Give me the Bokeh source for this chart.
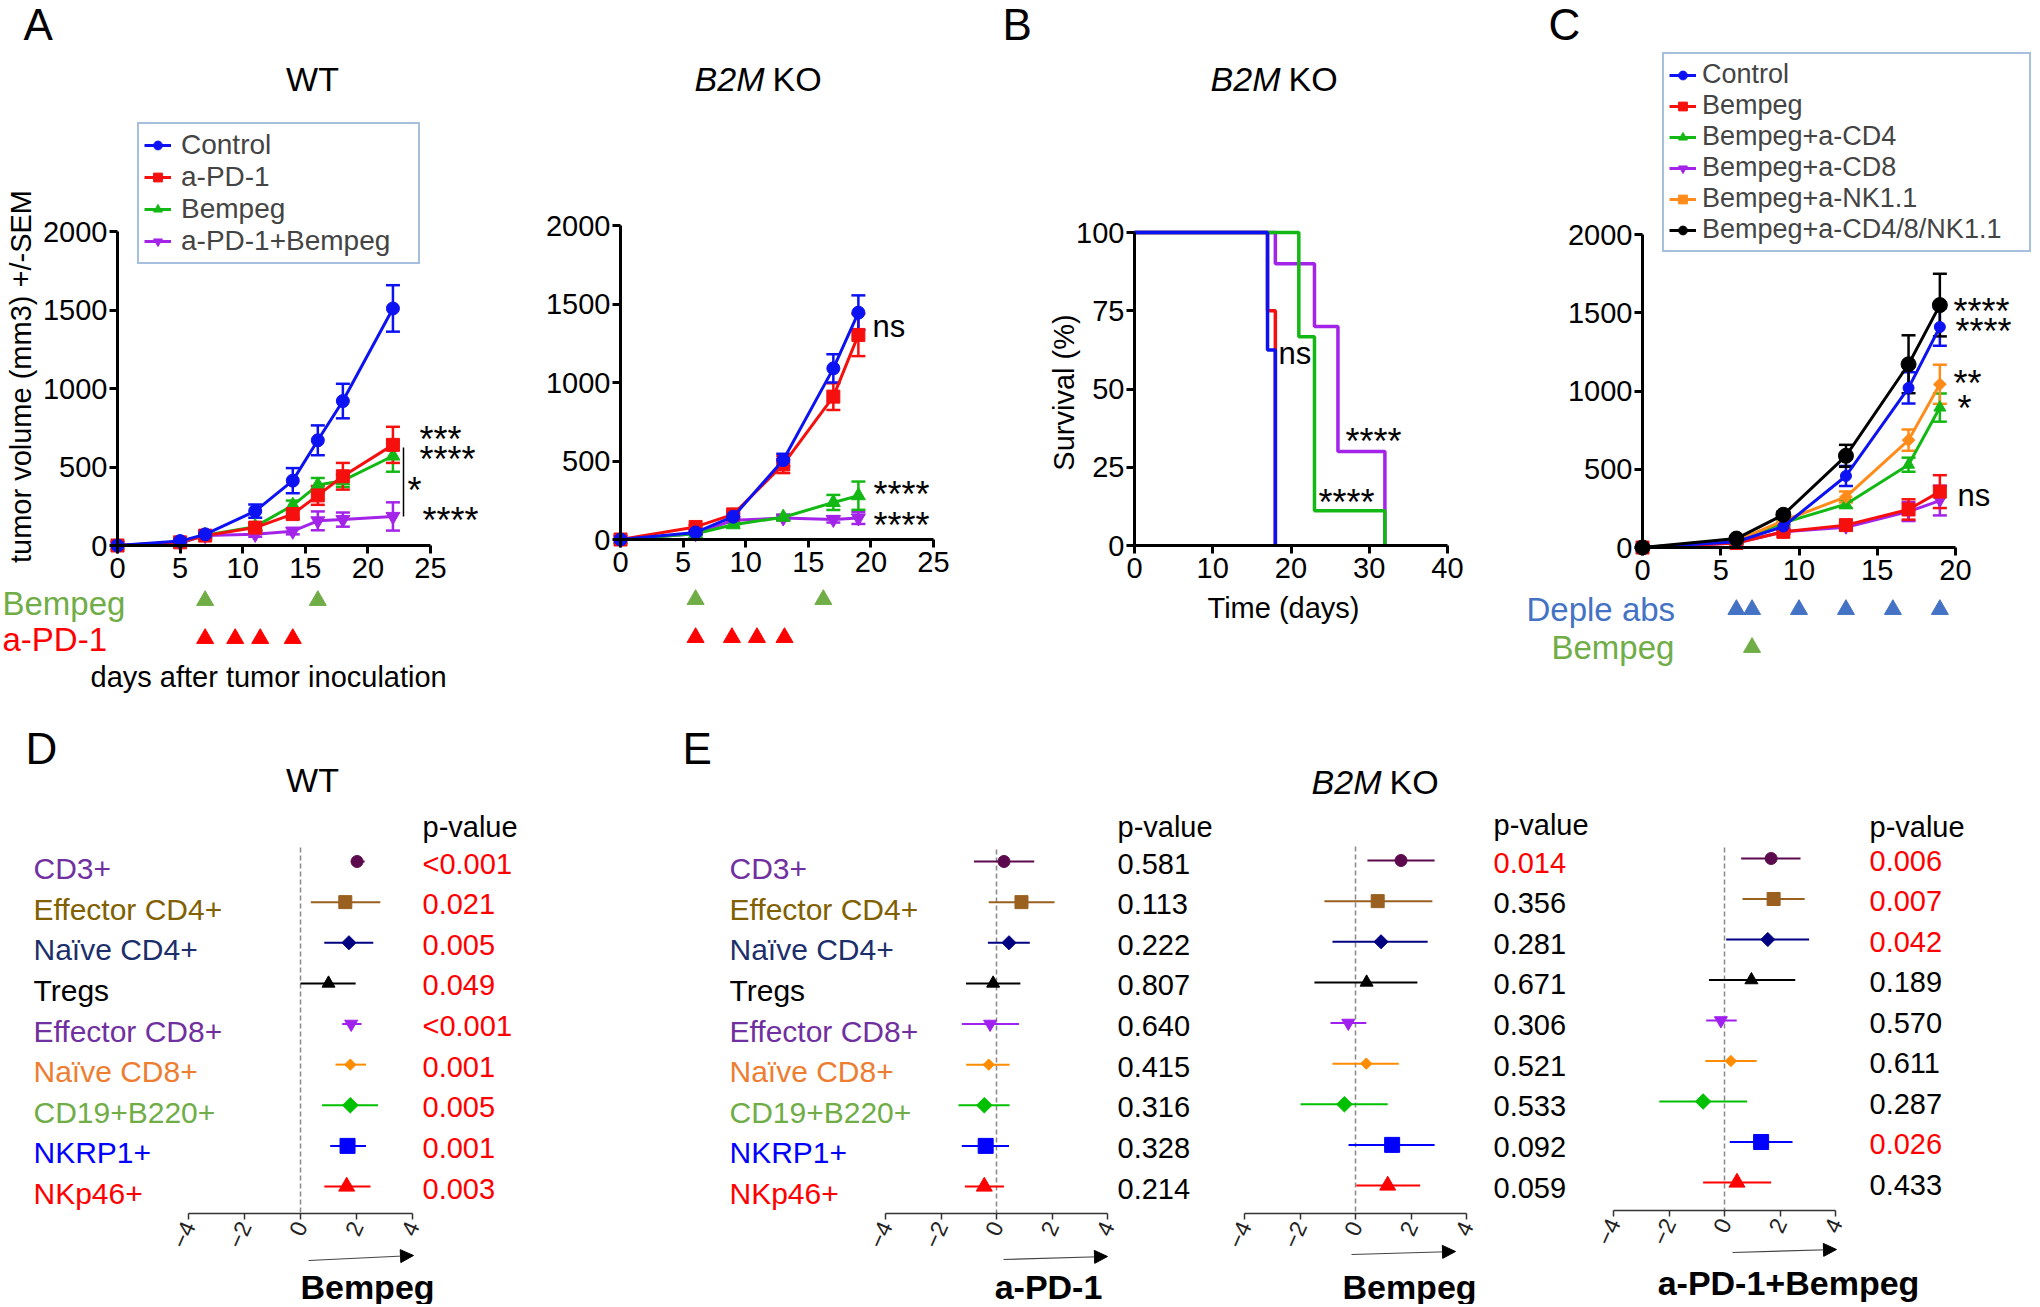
import math
from bokeh.plotting import figure
from bokeh.models import (Range1d, LinearAxis, FixedTicker, Label, Legend, LegendItem,
                          Whisker, TeeHead, ColumnDataSource, Arrow, NormalHead)
from bokeh.layouts import row, column
from bokeh.embed import file_html
from bokeh.resources import INLINE
from bokeh.core.properties import value

# ---------------- data ----------------
# Panel A, WT tumour growth (mm3, mean and SEM)
wt_days = [0, 5, 7, 11, 14, 16, 18, 22]
wt_control = [0, 28, 71, 219, 413, 670, 920, 1510]
wt_control_sem = [0, 8, 15, 42, 80, 95, 110, 148]
wt_apd1 = [0, 20, 63, 114, 200, 319, 441, 641]
wt_apd1_sem = [0, 5, 12, 20, 28, 60, 85, 115]
wt_bempeg = [0, 20, 65, 120, 256, 385, 413, 570]
wt_bempeg_sem = [0, 5, 12, 20, 30, 45, 40, 100]
wt_combo = [0, 15, 63, 71, 91, 157, 165, 185]
wt_combo_sem = [0, 5, 10, 15, 20, 60, 45, 90]
wt_bempeg_doses = [7, 16]
wt_apd1_doses = [7, 9.4, 11.4, 14]

# Panel A, B2M KO tumour growth
ko_days = [0, 6, 9, 13, 17, 19]
ko_control = [0, 45, 145, 506, 1090, 1445]
ko_control_sem = [0, 10, 20, 40, 90, 110]
ko_apd1 = [0, 80, 160, 478, 910, 1303]
ko_apd1_sem = [0, 12, 20, 55, 85, 135]
ko_bempeg = [0, 37, 94, 142, 236, 279]
ko_bempeg_sem = [0, 8, 12, 15, 48, 90]
ko_combo = [0, 37, 122, 137, 128, 137]
ko_combo_sem = [0, 8, 12, 15, 20, 38]
ko_bempeg_doses = [6, 16.2]
ko_apd1_doses = [6, 8.9, 10.9, 13.1]

# Panel B, survival (%)
surv_control_t = [0, 17, 18]
surv_control = [100, 62.5, 0]
surv_apd1_t = [0, 17, 18]
surv_apd1 = [100, 75, 0]
surv_bempeg_t = [0, 21, 23, 32]
surv_bempeg = [100, 66.7, 11.1, 0]
surv_combo_t = [0, 18, 23, 26, 32]
surv_combo = [100, 90, 70, 30, 0]

# Panel C, depletion
c_days = [0, 6, 9, 13, 17, 19]
c_control = [0, 37, 134, 457, 1020, 1409]
c_control_sem = [0, 8, 15, 64, 100, 120]
c_bempeg = [0, 29, 100, 143, 243, 357]
c_bempeg_sem = [0, 6, 15, 20, 65, 105]
c_cd4 = [0, 43, 157, 277, 529, 894]
c_cd4_sem = [0, 8, 15, 25, 45, 90]
c_cd8 = [0, 29, 100, 129, 229, 300]
c_cd8_sem = [0, 6, 12, 18, 60, 95]
c_nk = [0, 43, 171, 323, 686, 1043]
c_nk_sem = [0, 8, 15, 35, 68, 125]
c_all = [0, 57, 209, 586, 1171, 1549]
c_all_sem = [0, 10, 20, 70, 185, 200]
c_deple_doses = [6, 7, 10, 13, 16, 19]
c_bempeg_doses = [7]

# Panels D/E, forest plots
cells = ["CD3+", "Effector CD4+", "Naïve CD4+", "Tregs", "Effector CD8+",
         "Naïve CD8+", "CD19+B220+", "NKRP1+", "NKp46+"]
d_est = [2.02, 1.60, 1.73, 1.00, 1.81, 1.78, 1.78, 1.68, 1.65]
d_lo = [1.80, 0.37, 0.85, 0.00, 1.49, 1.25, 0.77, 1.06, 0.85]
d_hi = [2.29, 2.85, 2.60, 1.97, 2.18, 2.34, 2.77, 2.34, 2.50]
d_p = ["<0.001", "0.021", "0.005", "0.049", "<0.001", "0.001", "0.005", "0.001", "0.003"]
d_sig = [True] * 9

e1_est = [0.27, 0.90, 0.45, -0.12, -0.23, -0.28, -0.44, -0.39, -0.44]
e1_lo = [-0.81, -0.28, -0.31, -1.10, -1.25, -1.09, -1.37, -1.25, -1.14]
e1_hi = [1.36, 2.09, 1.20, 0.86, 0.81, 0.47, 0.47, 0.45, 0.27]
e1_p = ["0.581", "0.113", "0.222", "0.807", "0.640", "0.415", "0.316", "0.328", "0.214"]
e1_sig = [False] * 9

e2_est = [1.64, 0.80, 0.92, 0.40, -0.26, 0.39, -0.40, 1.32, 1.16]
e2_lo = [0.43, -1.12, -0.83, -1.48, -0.90, -0.83, -1.98, -0.25, 0.03]
e2_hi = [2.85, 2.77, 2.60, 2.23, 0.39, 1.56, 1.16, 2.85, 2.33]
e2_p = ["0.014", "0.356", "0.281", "0.671", "0.306", "0.521", "0.533", "0.092", "0.059"]
e2_sig = [True, False, False, False, False, False, False, False, False]

e3_est = [1.68, 1.77, 1.56, 0.97, -0.13, 0.23, -0.77, 1.32, 0.45]
e3_lo = [0.60, 0.65, 0.06, -0.56, -0.66, -0.69, -2.35, 0.19, -0.77]
e3_hi = [2.74, 2.89, 3.05, 2.55, 0.44, 1.16, 0.81, 2.45, 1.68]
e3_p = ["0.006", "0.007", "0.042", "0.189", "0.570", "0.611", "0.287", "0.026", "0.433"]
e3_sig = [True, True, True, False, False, False, False, True, False]

forest_ticks = [-4, -2, 0, 2, 4]

# ---------------- styles ----------------
FONT = "Liberation Sans"
BLUE = "#0c12f2"
RED = "#f5100e"
GREEN = "#14b814"
PURPLE = "#a324e8"
ORANGE = "#ff8c1a"
BLACK = "#000000"
DOSE_GREEN = "#70ad47"
DOSE_RED = "#ff0000"
DOSE_BLUE = "#4472c4"
LEG_BORDER = "#4f7fbf"

cell_label_colors = ["#7030a0", "#806000", "#1c2f6b", "#000000", "#7030a0",
                     "#ed7d31", "#70ad47", "#0000ff", "#ff0000"]
cell_marker_colors = ["#5c0a4e", "#996020", "#000080", "#000000", "#a020f0",
                      "#ff8c00", "#00c000", "#0000ff", "#ff0000"]
cell_markers = ["circle", "square", "square", "triangle", "inverted_triangle",
                "square", "square", "square", "triangle"]
cell_angles = [0, 0, math.pi / 4, 0, 0, math.pi / 4, math.pi / 4, 0, 0]
cell_sizes = [12, 13, 10, 13, 13, 8, 11, 15, 16]


def lin(pa, va, pb, vb, p):
    return va + (p - pa) * (vb - va) / (pb - pa)


def make_panel(x0, y0, w, h, xmap, ymap):
    p = figure(width=w, height=h,
               x_range=Range1d(lin(*xmap, x0), lin(*xmap, x0 + w)),
               y_range=Range1d(lin(*ymap, y0 + h), lin(*ymap, y0)),
               output_backend="svg", toolbar_location=None,
               x_axis_location=None, y_axis_location=None, title_location=None,
               min_border=0, outline_line_color=None,
               background_fill_color="white", border_fill_color="white")
    p.grid.visible = False
    p.extra_x_ranges = {"px": Range1d(x0, x0 + w)}
    p.extra_y_ranges = {"px": Range1d(y0 + h, y0)}
    return p


def label(p, x, y, s, size=29, color="black", align="left", baseline="middle",
          style="normal", angle=0.0):
    p.add_layout(Label(x=x, y=y, text=s, x_range_name="px", y_range_name="px",
                       text_font=FONT, text_font_size=f"{size}px", text_color=color,
                       text_align=align, text_baseline=baseline,
                       text_font_style=style, angle=angle))


def stars(p, x, y, s, size=36):
    label(p, x, y + 0.17 * size, s, size=size, baseline="alphabetic")


def growth_axes(p, xticks, yticks, xb, yb):
    yax = LinearAxis(fixed_location=0, bounds=yb, ticker=FixedTicker(ticks=yticks))
    xax = LinearAxis(fixed_location=0, bounds=xb, ticker=FixedTicker(ticks=xticks))
    for ax in (xax, yax):
        ax.axis_line_width = 3
        ax.axis_line_color = "black"
        ax.major_tick_line_width = 3
        ax.major_tick_line_color = "black"
        ax.major_tick_out = 8
        ax.major_tick_in = 0
        ax.minor_tick_line_color = None
        ax.major_label_text_font = FONT
        ax.major_label_text_font_size = "29px"
        ax.major_label_text_color = "black"
    yax.major_label_standoff = 2
    xax.major_label_standoff = 4
    p.add_layout(yax, "left")
    p.add_layout(xax, "below")


def series(p, days, vals, sems, color, marker, size, angle=0.0):
    src = ColumnDataSource(dict(x=days, y=vals))
    ln = p.line("x", "y", source=src, line_color=color, line_width=3)
    sc = p.scatter("x", "y", source=src, marker=marker, size=size, angle=angle,
                   fill_color=color, line_color=color)
    keep = [i for i, e in enumerate(sems) if e > 0]
    wsrc = ColumnDataSource(dict(x=[days[i] for i in keep],
                                 upper=[vals[i] + sems[i] for i in keep],
                                 lower=[vals[i] - sems[i] for i in keep]))
    p.add_layout(Whisker(base="x", upper="upper", lower="lower", source=wsrc,
                         dimension="height", line_color=color, line_width=2.5,
                         upper_head=TeeHead(size=14, line_color=color, line_width=2.5),
                         lower_head=TeeHead(size=14, line_color=color, line_width=2.5)))
    return [ln, sc]


def add_legend(p, items, loc, font, label_w, standoff=10, padding=6):
    lg = Legend(items=[LegendItem(label=n, renderers=r) for n, r in items],
                location=loc, label_text_font=FONT, label_text_font_size=font,
                glyph_width=27, glyph_height=22, label_height=22, label_width=label_w,
                spacing=0, padding=padding, margin=0, label_standoff=standoff,
                border_line_color=LEG_BORDER, border_line_width=2,
                background_fill_color="white", background_fill_alpha=1.0)
    p.add_layout(lg)


def doses(p, days, py, color):
    p.scatter(x=days, y=[py] * len(days), y_range_name="px", marker="triangle",
              size=17, fill_color=color, line_color=color)


# ---------------- Panel A: WT ----------------
pA1 = make_panel(0, 0, 500, 700, (117, 0, 430, 25), (545, 0, 231, 2000))
growth_axes(pA1, [0, 5, 10, 15, 20, 25], [0, 500, 1000, 1500, 2000], (0, 25), (0, 2000))
ra4 = series(pA1, wt_days, wt_combo, wt_combo_sem, PURPLE, "inverted_triangle", 14)
ra3 = series(pA1, wt_days, wt_bempeg, wt_bempeg_sem, GREEN, "triangle", 14)
ra2 = series(pA1, wt_days, wt_apd1, wt_apd1_sem, RED, "square", 13)
ra1 = series(pA1, wt_days, wt_control, wt_control_sem, BLUE, "circle", 13)
add_legend(pA1, [("Control", ra1), ("a-PD-1", ra2), ("Bempeg", ra3),
                 ("a-PD-1+Bempeg", ra4)], (137, 700 - 264), "28px",
           label_w=232, padding=5)
label(pA1, 23, 24, "A", size=44)
label(pA1, 312, 78, "WT", size=34, align="center")
label(pA1, 20, 376, "tumor volume (mm3) +/-SEM", align="center", angle=math.pi / 2)
stars(pA1, 419, 433, "***")
stars(pA1, 419, 453, "****")
stars(pA1, 407, 484, "*")
stars(pA1, 422, 514, "****")
pA1.segment(x0=[403], y0=[447], x1=[403], y1=[516], x_range_name="px",
            y_range_name="px", line_color="black", line_width=1.5)
doses(pA1, wt_bempeg_doses, 600, DOSE_GREEN)
doses(pA1, wt_apd1_doses, 638, DOSE_RED)
label(pA1, 2, 603, "Bempeg", size=33, color=DOSE_GREEN)
label(pA1, 2, 639, "a-PD-1", size=33, color=DOSE_RED)
label(pA1, 90, 676, "days after tumor inoculation")

# ---------------- Panel A: B2M KO ----------------
pA2 = make_panel(500, 0, 460, 700, (620, 0, 933, 25), (539, 0, 225, 2000))
growth_axes(pA2, [0, 5, 10, 15, 20, 25], [0, 500, 1000, 1500, 2000], (0, 25), (0, 2000))
series(pA2, ko_days, ko_combo, ko_combo_sem, PURPLE, "inverted_triangle", 14)
series(pA2, ko_days, ko_bempeg, ko_bempeg_sem, GREEN, "triangle", 14)
series(pA2, ko_days, ko_apd1, ko_apd1_sem, RED, "square", 13)
series(pA2, ko_days, ko_control, ko_control_sem, BLUE, "circle", 13)
label(pA2, 764, 78, "B2M", size=34, align="right", style="italic")
label(pA2, 772, 78, "KO", size=34)
label(pA2, 872, 326, "ns", size=31)
stars(pA2, 873, 488, "****")
stars(pA2, 873, 519, "****")
doses(pA2, ko_bempeg_doses, 599, DOSE_GREEN)
doses(pA2, ko_apd1_doses, 637, DOSE_RED)

# ---------------- Panel B: survival ----------------
pB = make_panel(960, 0, 520, 700, (1134, 0, 1447, 40), (545, 0, 232, 100))
growth_axes(pB, [0, 10, 20, 30, 40], [0, 25, 50, 75, 100], (0, 40), (0, 100))
pB.step(surv_apd1_t, surv_apd1, mode="after", line_color=RED, line_width=3.5)
pB.step(surv_combo_t, surv_combo, mode="after", line_color=PURPLE, line_width=3.5)
pB.step(surv_bempeg_t, surv_bempeg, mode="after", line_color=GREEN, line_width=3.5)
pB.step(surv_control_t, surv_control, mode="after", line_color=BLUE, line_width=3.5)
label(pB, 1002, 24, "B", size=44)
label(pB, 1280, 78, "B2M", size=34, align="right", style="italic")
label(pB, 1288, 78, "KO", size=34)
label(pB, 1063, 392, "Survival (%)", align="center", angle=math.pi / 2)
label(pB, 1283, 607, "Time (days)", align="center")
label(pB, 1278, 353, "ns", size=31)
stars(pB, 1345, 435, "****")
stars(pB, 1318, 496, "****")

# ---------------- Panel C: depletion ----------------
pC = make_panel(1480, 0, 556, 700, (1642, 0, 1955, 20), (547, 0, 234, 2000))
growth_axes(pC, [0, 5, 10, 15, 20], [0, 500, 1000, 1500, 2000], (0, 20), (0, 2000))
rc4 = series(pC, c_days, c_cd8, c_cd8_sem, PURPLE, "inverted_triangle", 12)
rc2 = series(pC, c_days, c_bempeg, c_bempeg_sem, RED, "square", 13)
rc3 = series(pC, c_days, c_cd4, c_cd4_sem, GREEN, "triangle", 12)
rc5 = series(pC, c_days, c_nk, c_nk_sem, ORANGE, "square", 9, angle=math.pi / 4)
rc1 = series(pC, c_days, c_control, c_control_sem, BLUE, "circle", 11)
rc6 = series(pC, c_days, c_all, c_all_sem, BLACK, "circle", 15)
add_legend(pC, [("Control", rc1), ("Bempeg", rc2), ("Bempeg+a-CD4", rc3),
                ("Bempeg+a-CD8", rc4), ("Bempeg+a-NK1.1", rc5),
                ("Bempeg+a-CD4/8/NK1.1", rc6)], (1662 - 1480, 700 - 252), "27px",
           label_w=322, standoff=6, padding=5)
label(pC, 1548, 24, "C", size=44)
stars(pC, 1953, 305, "****")
stars(pC, 1955, 325, "****")
stars(pC, 1953, 377, "**")
stars(pC, 1957, 402, "*")
label(pC, 1957, 495, "ns", size=31)
doses(pC, c_deple_doses, 609, DOSE_BLUE)
doses(pC, c_bempeg_doses, 647, DOSE_GREEN)
label(pC, 1526, 609, "Deple abs", size=33, color=DOSE_BLUE)
label(pC, 1551, 647, "Bempeg", size=33, color=DOSE_GREEN)


# ---------------- Panels D / E: forest plots ----------------
def forest(p, ymap, est, lo, hi, pvals, sig, axis_py, top_py, pv_x, head_y, arrow,
           name, name_x, name_y, label_x=None):
    idx = list(range(len(cells)))
    ax = LinearAxis(fixed_location=lin(*ymap, axis_py), bounds=(-4, 4),
                    ticker=FixedTicker(ticks=forest_ticks))
    ax.axis_line_color = "#333333"
    ax.axis_line_width = 1.5
    ax.major_tick_line_color = "#333333"
    ax.major_tick_line_width = 1.5
    ax.major_tick_out = 6
    ax.major_tick_in = 0
    ax.minor_tick_line_color = None
    ax.major_label_text_font = FONT
    ax.major_label_text_font_size = "23px"
    ax.major_label_text_color = "#222222"
    ax.major_label_orientation = 1.15
    ax.major_label_standoff = 3
    p.add_layout(ax, "below")
    p.segment(x0=[0], x1=[0], y0=[lin(*ymap, top_py)], y1=[lin(*ymap, axis_py)],
              line_color="#888888", line_width=1.5, line_dash="5 3")
    src = ColumnDataSource(dict(y=idx, est=est, lo=lo, hi=hi, color=cell_marker_colors,
                                marker=cell_markers, size=cell_sizes, angle=cell_angles))
    p.segment(x0="lo", x1="hi", y0="y", y1="y", source=src, line_color="color", line_width=2)
    p.scatter(x="est", y="y", source=src, marker="marker", size="size", angle="angle",
              fill_color="color", line_color="color")
    pcol = ["#ff0000" if s else "#000000" for s in sig]
    p.text(x=[pv_x] * len(pvals), y=idx, text=pvals, x_range_name="px",
           text_color=pcol, text_font=value(FONT), text_font_size=value("29px"),
           text_baseline="middle", text_align="left", y_offset=2)
    if label_x is not None:
        p.text(x=[label_x] * len(cells), y=idx, text=cells, x_range_name="px",
               text_color=cell_label_colors, text_font=value(FONT),
               text_font_size=value("30px"), text_baseline="middle",
               text_align="left", y_offset=7)
    label(p, pv_x, head_y, "p-value")
    (xs, ys, xe, ye) = arrow
    p.add_layout(Arrow(end=NormalHead(size=13, fill_color="black", line_color="black"),
                       x_start=xs, y_start=ys, x_end=xe, y_end=ye,
                       x_range_name="px", y_range_name="px",
                       line_color="#444444", line_width=1.2))
    label(p, name_x, name_y, name, size=34, align="center", style="bold")


ymapD = (861, 0, 1186, 8)
pD = make_panel(0, 700, 680, 604, (188, -4, 412, 4), ymapD)
forest(pD, ymapD, d_est, d_lo, d_hi, d_p, d_sig, 1213, 847, 422, 826,
       (308, 1260, 413, 1255), "Bempeg", 367, 1286, label_x=33)
label(pD, 25, 748, "D", size=44)
label(pD, 312, 779, "WT", size=34, align="center")

ymapE1 = (861, 0, 1186, 8)
pE1 = make_panel(680, 700, 542, 604, (885, -4, 1107, 4), ymapE1)
forest(pE1, ymapE1, e1_est, e1_lo, e1_hi, e1_p, e1_sig, 1213, 849, 1117, 826,
       (1003, 1259, 1107, 1256), "a-PD-1", 1048, 1286, label_x=729)
label(pE1, 682, 748, "E", size=44)

ymapE2 = (860, 0, 1185, 8)
pE2 = make_panel(1222, 700, 366, 604, (1244, -4, 1466, 4), ymapE2)
forest(pE2, ymapE2, e2_est, e2_lo, e2_hi, e2_p, e2_sig, 1213, 846, 1493, 824,
       (1351, 1254, 1455, 1251), "Bempeg", 1409, 1286)
label(pE2, 1381, 781, "B2M", size=34, align="right", style="italic")
label(pE2, 1389, 781, "KO", size=34)

ymapE3 = (858, 0, 1182, 8)
pE3 = make_panel(1588, 700, 448, 604, (1613, -4, 1835, 4), ymapE3)
forest(pE3, ymapE3, e3_est, e3_lo, e3_hi, e3_p, e3_sig, 1210, 847, 1869, 826,
       (1732, 1252, 1836, 1249), "a-PD-1+Bempeg", 1788, 1282)

layout = column(row(pA1, pA2, pB, pC), row(pD, pE1, pE2, pE3))
open("out.html", "w").write(file_html(layout, INLINE))
